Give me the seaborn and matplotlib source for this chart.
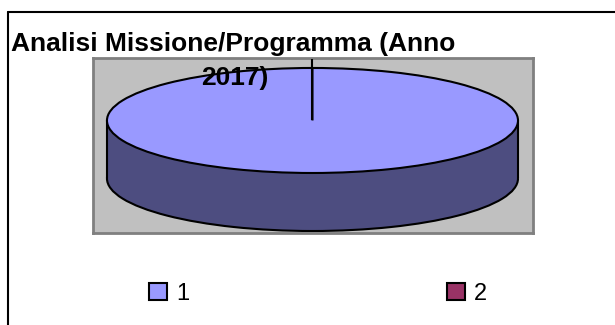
import matplotlib
matplotlib.use("Agg")
import matplotlib.pyplot as plt
import seaborn as sns
import numpy as np
from matplotlib.lines import Line2D
from matplotlib.patches import Rectangle

# Data
categories = ["1", "2"]
values = [100, 0]
title_lines = ["Analisi Missione/Programma (Anno", "2017)"]

top_colors = ["#9999FF", "#993366"]
side_colors = ["#4D4D80", "#4D1A33"]

sns.set_style("white")
plt.rcParams["font.family"] = ["Liberation Sans", "DejaVu Sans"]
plt.rcParams["text.color"] = "black"

W, H = 615, 325
fig = plt.figure(figsize=(W / 100, H / 100), dpi=100)
fig.patch.set_facecolor("white")


def fx(px):
    return px / W


def fy(py):
    return 1 - py / H


# Plot area (grey wall)
ax = fig.add_axes([fx(93), fy(233), (533 - 93) / W, (233 - 58) / H])
ax.set_facecolor("#C0C0C0")

depth = 1.105
lw = 1.5

# Bottom rim of the cylinder
bottom_wedges, _ = ax.pie(values, colors=side_colors, startangle=90,
                          counterclock=False, center=(0, -depth),
                          wedgeprops=dict(edgecolor="black", linewidth=lw,
                                          zorder=1))
for w, v in zip(bottom_wedges, values):
    if v == 0:
        w.set_linewidth(0)
# Side wall between the two rims
ax.add_patch(Rectangle((-1, -depth), 2, depth, facecolor=side_colors[0],
                       edgecolor="none", zorder=2))
ax.vlines([-1, 1], -depth, 0, colors="black", linewidth=lw, zorder=2.5)
# Top face
wedges, _ = ax.pie(values, colors=top_colors, startangle=90,
                   counterclock=False,
                   wedgeprops=dict(edgecolor="black", linewidth=lw, zorder=3))

# Slice boundary line
total = float(np.sum(values))
theta = np.deg2rad(90 - 360 * values[0] / total)
ax.plot([0, 1.17 * np.cos(theta)], [0, 1.17 * np.sin(theta)],
        color="black", linewidth=lw, zorder=4, solid_capstyle="butt")

ax.set_aspect("auto")
ax.set_xlim(-1.068, 1.073)
ax.set_ylim(-2.143, 1.19)
ax.set_frame_on(True)
for s in ax.spines.values():
    s.set_color("#808080")
    s.set_linewidth(2)
    s.set_visible(True)
ax.set_xticks([])
ax.set_yticks([])

# Chart border
fig.add_artist(Line2D([fx(8), fx(8)], [0, fy(12)], color="black", linewidth=1.5))
fig.add_artist(Line2D([fx(8), 1], [fy(12), fy(12)], color="black", linewidth=1.5))

# Title
fig.text(fx(233), fy(51), title_lines[0], ha="center", va="baseline",
         fontsize=19, fontweight="bold", color="black")
fig.text(fx(235), fy(85), title_lines[1], ha="center", va="baseline",
         fontsize=19, fontweight="bold", color="black")

# Legend
leg = fig.legend(wedges, categories, loc="upper left",
                 bbox_to_anchor=(fx(149), fy(283)), ncol=2, frameon=False,
                 fontsize=17, handlelength=0.76, handleheight=0.76,
                 handletextpad=0.4, columnspacing=10.9, borderpad=0,
                 borderaxespad=0)
for t in leg.get_texts():
    t.set_color("black")

fig.savefig("out.png", dpi=100)
